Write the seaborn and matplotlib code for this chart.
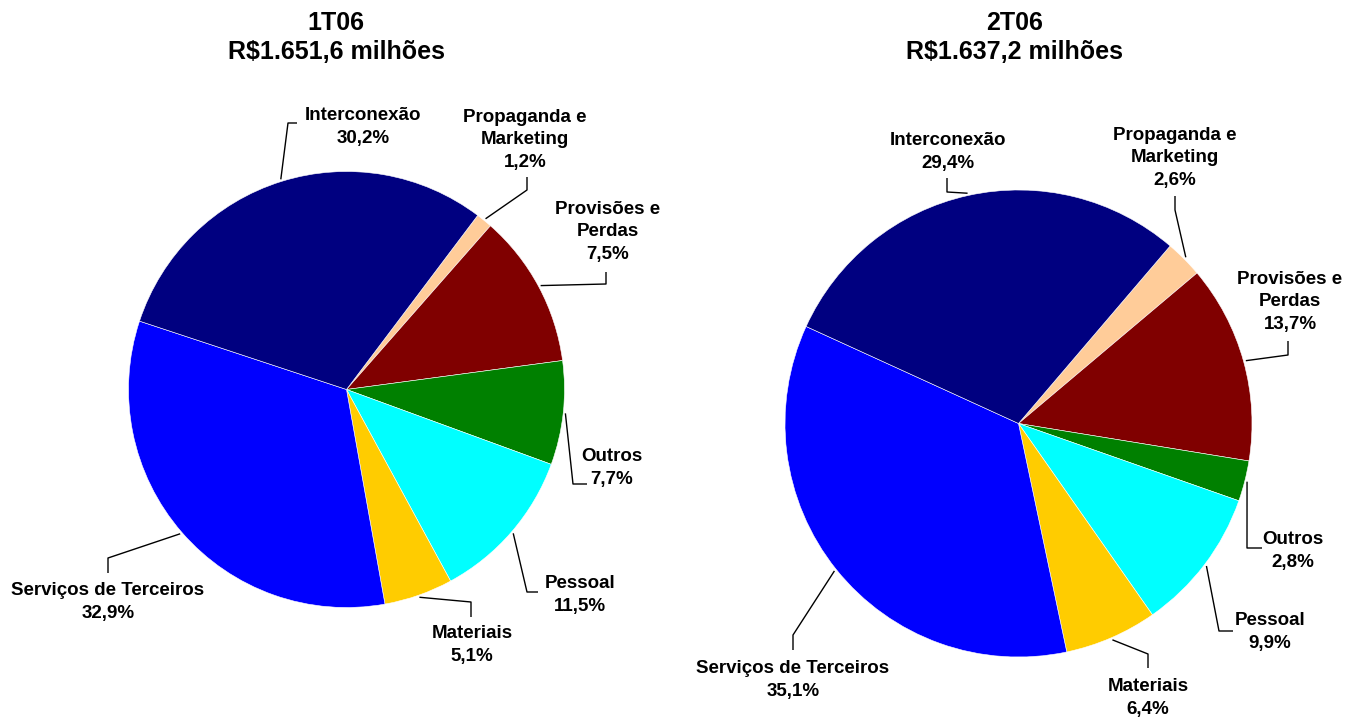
import numpy as np
import matplotlib.pyplot as plt
import seaborn as sns

# Style
sns.set_style("white")
plt.rcParams["font.family"] = ["Liberation Sans", "DejaVu Sans"]

# Data
categories = ["Propaganda e\nMarketing", "Provisões e\nPerdas", "Outros", "Pessoal",
              "Materiais", "Serviços de Terceiros", "Interconexão"]
colors = ["#FFCC99", "#800000", "#008000", "#00FFFF", "#FFCC00", "#0000FF", "#000080"]

# slice sizes as drawn in the source (its 1T06 "Provisões" label reads 7,5%)
shares_1t06 = [1.2, 11.4, 7.7, 11.5, 5.1, 32.9, 30.2]
labels_1t06 = ["1,2%", "7,5%", "7,7%", "11,5%", "5,1%", "32,9%", "30,2%"]
shares_2t06 = [2.6, 13.7, 2.8, 9.9, 6.4, 35.1, 29.4]
labels_2t06 = ["2,6%", "13,7%", "2,8%", "9,9%", "6,4%", "35,1%", "29,4%"]

titles = ["1T06\nR$1.651,6 milhões", "2T06\nR$1.637,2 milhões"]

# Layout (pixels of the 1351x719 canvas)
W, H = 1351, 719
pies = [
    dict(shares=shares_1t06, labels=labels_1t06, title=titles[0],
         cx=346.5, cy=389.5, r=218, start=53, box=(0, 675.5), title_x=336,
         text=[(525, 140), (608, 232), (612, 468), (580, 595), (472, 645), (108, 602), (363, 127)],
         elbow=[((527, 177), (527, 190)), ((606, 272), (606, 284)), ((587, 484), (573, 484)),
                ((538, 592), (527, 592)), ((471, 617), (471, 602)), ((108, 573), (108, 558)),
                ((297, 123), (288, 123))]),
    dict(shares=shares_2t06, labels=labels_2t06, title=titles[1],
         cx=1018.5, cy=423.5, r=233.5, start=49.5, box=(675.5, 1351), title_x=1015,
         text=[(1175, 158), (1290, 302), (1293, 551), (1270, 632), (1148, 698), (793, 680), (948, 152)],
         elbow=[((1175, 196), (1175, 210)), ((1288, 341), (1288, 355)), ((1262, 548), (1247, 548)),
                ((1233, 631), (1219, 631)), ((1148, 668), (1148, 654)), ((793, 650), (793, 635)),
                ((947, 178), (947, 192))]),
]

fig = plt.figure(figsize=(13.51, 7.19), dpi=100)

for p in pies:
    left, right = p["box"]
    ax = fig.add_axes([left / W, 0, (right - left) / W, 1])
    cx, cy, r = p["cx"], p["cy"], p["r"]

    def to_data(pt):
        return ((pt[0] - cx) / r, (cy - pt[1]) / r)

    wedges, _ = ax.pie(p["shares"], colors=colors, startangle=p["start"], counterclock=False,
                       wedgeprops=dict(edgecolor="white", linewidth=0.4))
    ax.set_xlim((left - cx) / r, (right - cx) / r)
    ax.set_ylim((cy - H) / r, cy / r)
    ax.axis("off")

    for w, cat, lab, tpos, (e1, e2) in zip(wedges, categories, p["labels"], p["text"], p["elbow"]):
        mid = np.deg2rad((w.theta1 + w.theta2) / 2)
        edge = (1.01 * np.cos(mid), 1.01 * np.sin(mid))
        a, b = to_data(e1), to_data(e2)
        ax.plot([a[0], b[0], edge[0]], [a[1], b[1], edge[1]], color="black", lw=1.0,
                solid_capstyle="butt", zorder=3)
        tx, ty = to_data(tpos)
        ax.text(tx, ty, f"{cat}\n{lab}", ha="center", va="center", fontsize=13.5,
                fontweight="bold", linespacing=1.45, color="black")

    fig.text(p["title_x"] / W, 1 - 37.5 / H, p["title"], ha="center", va="center",
             fontsize=18, fontweight="bold", linespacing=1.25, color="black")

plt.savefig("out.png", dpi=100)
